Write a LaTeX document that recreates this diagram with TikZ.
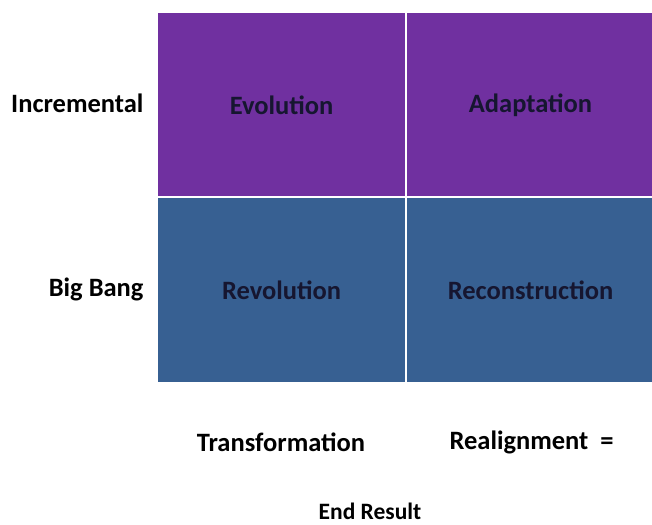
\documentclass[tikz,border=0pt]{standalone}
\usepackage{fontspec}
\setmainfont{Carlito}
\usetikzlibrary{positioning}
\definecolor{cellpurple}{HTML}{7030A0}
\definecolor{cellblue}{HTML}{376092}
\definecolor{celltext}{HTML}{161630}

\begin{document}
\begin{tikzpicture}[x=1pt, y=-1pt,
        cell/.style={draw=white, line width=1.5pt, minimum width=#1, minimum height=186pt,
            inner sep=0pt, font=\bfseries\fontsize{26.5}{30}\selectfont, text=celltext},
        rowlabel/.style={anchor=east, font=\bfseries\fontsize{26.5}{30}\selectfont},
        axislabel/.style={font=\bfseries\fontsize{26.5}{30}\selectfont}]
        \useasboundingbox (0,0) rectangle (652,524);
        \fill[white] (0,0) rectangle (652,524);

        % Matrix cells.
        \node[cell=249pt, fill=cellpurple] (evo) at (281.5,105) {Evolution};
        \node[cell=249pt, fill=cellpurple] (ada) at (530.5,105) {Adaptation};
        \node[cell=249pt, fill=cellblue] (rev) at (281.5,290) {Revolution};
        \node[cell=249pt, fill=cellblue] (rec) at (530.5,290) {Reconstruction};

        % Row labels.
        \node[rowlabel] (inc) at (147,103) {Incremental};
        \node[rowlabel] (big) at (147,289) {Big Bang};

        % Column labels.
        \node[axislabel] (trans) at (281,442) {Transformation};
        \node[axislabel, anchor=west] (realign) at (446,442) {Realignment\ \ =};
        \node[axislabel, font=\bfseries\fontsize{23.5}{28}\selectfont] (endres) at (370,511) {End Result};
    \end{tikzpicture}
\end{document}
